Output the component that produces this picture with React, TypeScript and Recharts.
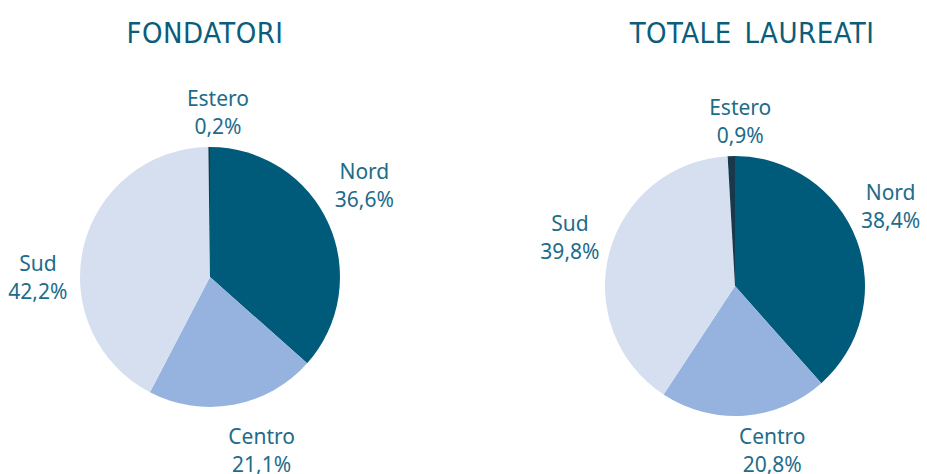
import { Cell, Pie, PieChart } from "recharts";

const regions = ["Nord", "Centro", "Sud", "Estero"];
const fondatori = [36.6, 21.1, 42.2, 0.2];
const laureati = [38.4, 20.8, 39.8, 0.9];
const colors = ["#005a7a", "#95b3de", "#d5dff0", "#17394b"];

// small manual offsets for the data labels, as placed in the original
const fondatoriNudge = [
  [-8, -19],
  [21, 6],
  [-1, 41],
  [9, 4],
];
const laureatiNudge = [
  [-10, -17],
  [25, -5],
  [5, -3],
  [10, 4],
];

const fondatoriData = regions.map((name, i) => ({ name, value: fondatori[i] }));
const laureatiData = regions.map((name, i) => ({ name, value: laureati[i] }));

const RADIAN = Math.PI / 180;
const LABEL_COLOR = "#1d6c8a";

function fmt(v: number) {
  return v.toFixed(1).replace(".", ",") + "%";
}

// label box centred so that its nearest edge sits a fixed gap outside the pie
function makeLabel(nudge: number[][]) {
  return (props: any) => {
    const { cx, cy, midAngle, outerRadius, name, value, index } = props;
    const c = Math.cos(-midAngle * RADIAN);
    const s = Math.sin(-midAngle * RADIAN);
    const halfW = 31;
    const halfH = 25;
    const edge = Math.min(
      Math.abs(c) > 1e-6 ? halfW / Math.abs(c) : Infinity,
      Math.abs(s) > 1e-6 ? halfH / Math.abs(s) : Infinity
    );
    const r = outerRadius + 14 + edge;
    const [dx, dy] = nudge[index] ?? [0, 0];
    const x = cx + r * c + dx;
    const y = cy + r * s + dy;
    return (
      <text
        x={x}
        y={y}
        textAnchor="middle"
        fill={LABEL_COLOR}
        fontSize={21}
        fontFamily="'Noto Sans', sans-serif"
      >
        <tspan x={x} y={y - 6}>
          {name}
        </tspan>
        <tspan x={x} y={y + 22}>
          {fmt(value)}
        </tspan>
      </text>
    );
  };
}

const titleStyle: React.CSSProperties = {
  position: "absolute",
  top: 16,
  fontFamily: "'DejaVu Sans Condensed', 'DejaVu Sans', sans-serif",
  fontSize: 29,
  color: "#0b5d7c",
  transform: "translateX(-50%)",
  whiteSpace: "nowrap",
  letterSpacing: 0.5,
  wordSpacing: 4,
};

export default function App() {
  return (
    <div
      style={{
        position: "absolute",
        left: 0,
        top: 0,
        width: 927,
        height: 474,
        background: "#fff",
      }}
    >
      <div style={{ ...titleStyle, left: 205 }}>FONDATORI</div>
      <div style={{ ...titleStyle, left: 752 }}>TOTALE LAUREATI</div>
      <PieChart width={927} height={474}>
        <Pie
          data={fondatoriData}
          dataKey="value"
          nameKey="name"
          cx={205}
          cy={272}
          outerRadius={130}
          startAngle={90}
          endAngle={-270}
          stroke="none"
          label={makeLabel(fondatoriNudge)}
          labelLine={false}
          isAnimationActive={false}
        >
          {fondatoriData.map((d, i) => (
            <Cell key={d.name} fill={colors[i]} />
          ))}
        </Pie>
        <Pie
          data={laureatiData}
          dataKey="value"
          nameKey="name"
          cx={730}
          cy={281}
          outerRadius={130}
          startAngle={90}
          endAngle={-270}
          stroke="none"
          label={makeLabel(laureatiNudge)}
          labelLine={false}
          isAnimationActive={false}
        >
          {laureatiData.map((d, i) => (
            <Cell key={d.name} fill={colors[i]} />
          ))}
        </Pie>
      </PieChart>
    </div>
  );
}
